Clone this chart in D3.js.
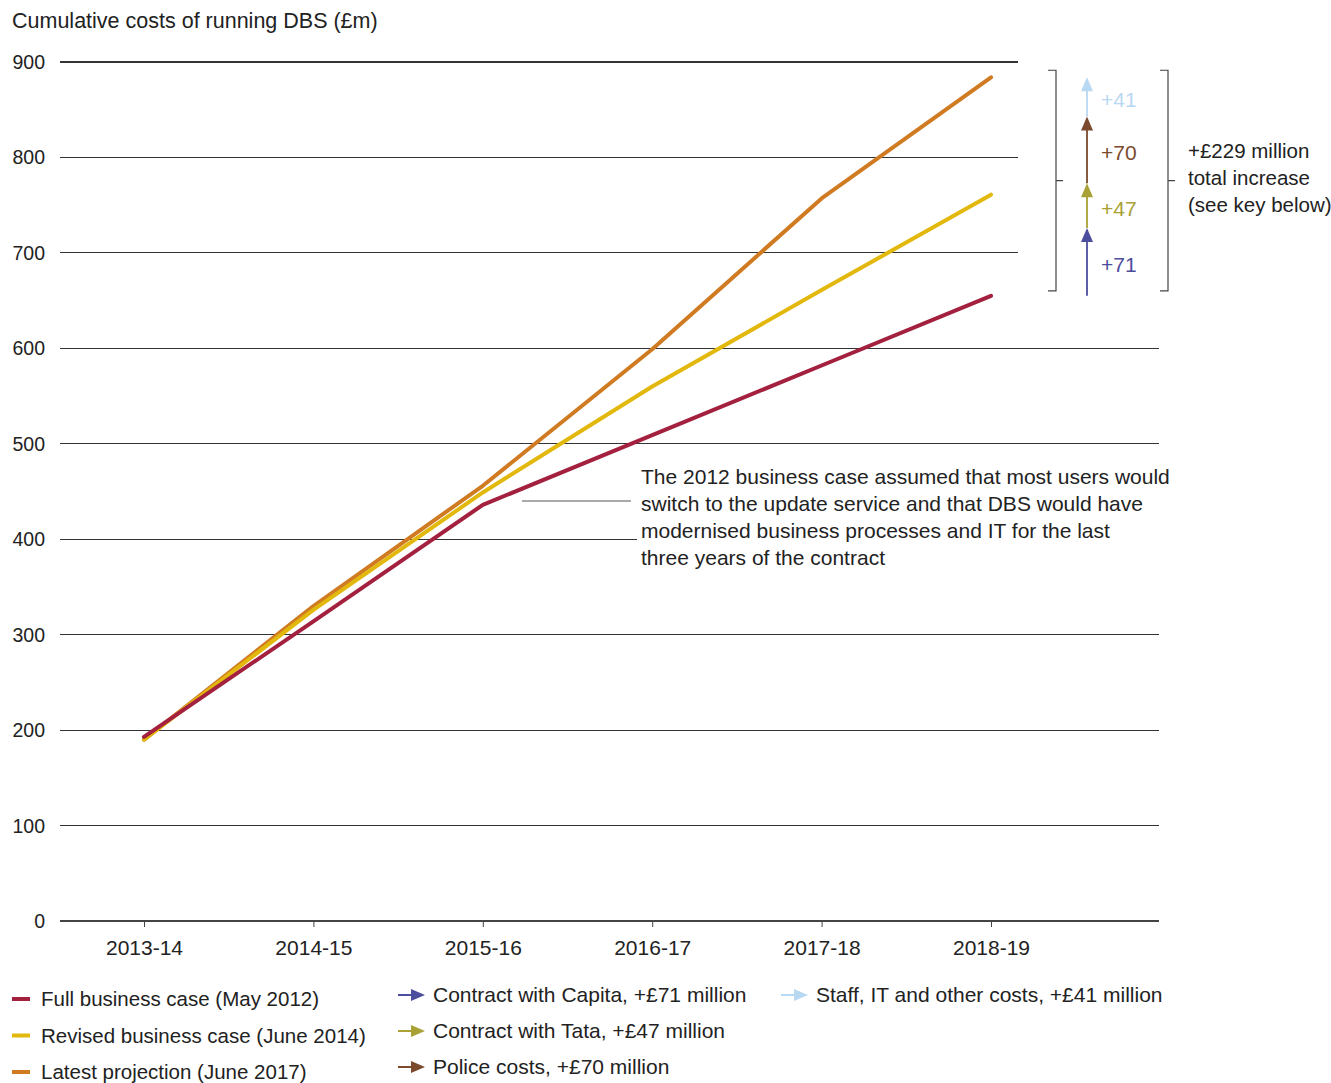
<!DOCTYPE html>
<html>
<head>
<meta charset="utf-8">
<script src="https://cdn.jsdelivr.net/npm/d3@7/dist/d3.min.js"></script>
<style>
  html, body { margin: 0; padding: 0; background: #fff; }
  svg { display: block; font-family: "Liberation Sans", Arial, sans-serif; }
  text { fill: #222; }
</style>
</head>
<body>
<svg id="chart" width="1331" height="1083"></svg>
<script>
// Financial years on the x axis
const years = ["2013-14", "2014-15", "2015-16", "2016-17", "2017-18", "2018-19"];

// Cumulative cost projections, £m
const fullBusinessCase = [193, 314, 436, 509, 582, 655];
const revisedBusinessCase = [190, 326, 449, 560, 661, 761];
const latestProjection = [190, 330, 456, 599, 757, 884];

const seriesNames = ["Full business case (May 2012)", "Revised business case (June 2014)", "Latest projection (June 2017)"];
const seriesColors = ["#a3203f", "#e3b80c", "#d07b22"];

// Breakdown of the increase between 2012 and 2017 projections for 2018-19
const increaseParts = [71, 47, 70, 41];
const increaseNames = ["Contract with Capita, +£71 million", "Contract with Tata, +£47 million", "Police costs, +£70 million", "Staff, IT and other costs, +£41 million"];
const increaseColors = ["#4c4d9c", "#a9a036", "#7b4a2c", "#b9d8f2"];

const yTicks = [0, 100, 200, 300, 400, 500, 600, 700, 800, 900];

const svg = d3.select("#chart");
const FONT = 21;

const x = d3.scalePoint().domain(years).range([144, 991]);
const y = d3.scaleLinear().domain([0, 900]).range([921, 62]);

// Title
svg.append("text").attr("x", 12).attr("y", 28).attr("font-size", 21.5)
  .text("Cumulative costs of running DBS (£m)");

// Horizontal gridlines; upper lines stop short of the increase annotation,
// the 400 line stops at the note text
const gridEnd = v => (v >= 700 ? 1018 : v === 400 ? 637 : 1159);
svg.append("g").selectAll("line").data(yTicks).join("line")
  .attr("x1", 60).attr("x2", d => gridEnd(d))
  .attr("y1", d => y(d)).attr("y2", d => y(d))
  .attr("stroke", d => d === 0 ? "#444" : "#333").attr("stroke-width", 1.1)
  .attr("shape-rendering", "crispEdges");

// Y tick labels
svg.append("g").selectAll("text").data(yTicks).join("text")
  .attr("x", 45).attr("y", d => y(d) + 7).attr("text-anchor", "end")
  .attr("font-size", 19.5).text(d => d);

// X axis ticks and labels
const xAxis = svg.append("g").attr("transform", `translate(0,${y(0)})`)
  .call(d3.axisBottom(x).tickSize(6).tickPadding(13).tickSizeOuter(0));
xAxis.select(".domain").remove();
xAxis.selectAll(".tick line").attr("stroke", "#444");
xAxis.selectAll(".tick text").attr("font-size", FONT).attr("fill", "#222")
  .attr("font-family", "Liberation Sans, Arial, sans-serif");

// Lines
const line = d3.line().x((d, i) => x(years[i])).y(d => y(d));
const allSeries = [fullBusinessCase, revisedBusinessCase, latestProjection];
const drawOrder = [2, 1, 0];
svg.append("g").selectAll("path").data(drawOrder).join("path")
  .attr("d", i => line(allSeries[i]))
  .attr("fill", "none").attr("stroke", i => seriesColors[i])
  .attr("stroke-width", 4).attr("stroke-linecap", "round").attr("stroke-linejoin", "round");

// Note about the 2012 business case assumptions
const noteLines = [
  "The 2012 business case assumed that most users would",
  "switch to the update service and that DBS would have",
  "modernised business processes and IT for the last",
  "three years of the contract"
];
svg.append("line").attr("x1", 522).attr("x2", 631).attr("y1", 501).attr("y2", 501)
  .attr("stroke", "#555").attr("stroke-width", 1.2);
svg.append("g").selectAll("text").data(noteLines).join("text")
  .attr("x", 641).attr("y", (d, i) => 484 + i * 27).attr("font-size", FONT).text(d => d);

// Stacked increase arrows from the 2012 end value up to the 2017 end value
const arrowX = x(years[years.length - 1]) + 96;
const headLen = 14, headHalf = 6;
let base = fullBusinessCase[fullBusinessCase.length - 1];
const arrows = increaseParts.map((v, i) => {
  const a = { from: base, to: base + v, color: increaseColors[i], value: v };
  base += v;
  return a;
});
const ag = svg.append("g");
arrows.forEach(a => {
  const y0 = y(a.from), y1 = y(a.to);
  ag.append("line").attr("x1", arrowX).attr("x2", arrowX)
    .attr("y1", y0).attr("y2", y1 + headLen - 1)
    .attr("stroke", a.color).attr("stroke-width", 1.8);
  ag.append("path")
    .attr("d", `M${arrowX},${y1} L${arrowX + headHalf},${y1 + headLen} L${arrowX - headHalf},${y1 + headLen} Z`)
    .attr("fill", a.color);
  ag.append("text").attr("x", arrowX + 14).attr("y", (y0 + y1) / 2 + 10)
    .attr("font-size", FONT).style("fill", a.color).text("+" + a.value);
});

// Brackets around the arrows
const bTop = y(latestProjection[5]) - 7, bBot = y(fullBusinessCase[5]) - 5;
const bMid = (bTop + bBot) / 2;
[[1048, 1056], [1160, 1168]].forEach(([xa, xb]) => {
  svg.append("path")
    .attr("d", `M${xa},${bTop} H${xb} V${bBot} H${xa} M${xb},${bMid} H${xb + 7}`)
    .attr("fill", "none").attr("stroke", "#444").attr("stroke-width", 1.2);
});
const totalLines = ["+£229 million", "total increase", "(see key below)"];
svg.append("g").selectAll("text").data(totalLines).join("text")
  .attr("x", 1188).attr("y", (d, i) => 158 + i * 27).attr("font-size", 20.5).text(d => d);

// Legend: projections
const lg = svg.append("g");
seriesNames.forEach((name, i) => {
  const ly = 999 + i * 36.5;
  lg.append("line").attr("x1", 12).attr("x2", 30).attr("y1", ly).attr("y2", ly)
    .attr("stroke", seriesColors[i]).attr("stroke-width", 4);
  lg.append("text").attr("x", 41).attr("y", ly + 7).attr("font-size", 20.5).text(name);
});

// Legend: increase components
const legendArrowPos = [[398, 995], [398, 1031], [398, 1067], [781, 995]];
increaseNames.forEach((name, i) => {
  const [lx, ly] = legendArrowPos[i];
  lg.append("line").attr("x1", lx).attr("x2", lx + 14).attr("y1", ly).attr("y2", ly)
    .attr("stroke", increaseColors[i]).attr("stroke-width", 2);
  lg.append("path")
    .attr("d", `M${lx + 27},${ly} L${lx + 13},${ly - 6} L${lx + 13},${ly + 6} Z`)
    .attr("fill", increaseColors[i]);
  lg.append("text").attr("x", lx + 35).attr("y", ly + 7).attr("font-size", FONT).text(name);
});
</script>
</body>
</html>
